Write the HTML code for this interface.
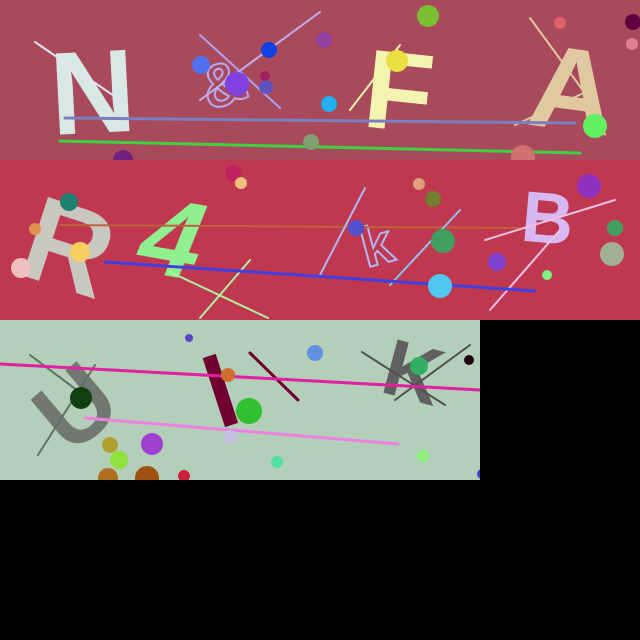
<!DOCTYPE html>
<html><head><meta charset="utf-8"><style>
html,body{margin:0;padding:0;background:#000;width:640px;height:640px;overflow:hidden}
svg{display:block}
text{font-family:"Liberation Sans",sans-serif;font-weight:bold}
</style></head><body>
<svg width="640" height="640" viewBox="0 0 640 640">
<defs>
<clipPath id="c1"><rect x="0" y="0" width="640" height="160"/></clipPath>
<clipPath id="c2"><rect x="0" y="160" width="640" height="160"/></clipPath>
<clipPath id="c3"><rect x="0" y="320" width="480" height="160"/></clipPath>
</defs>
<rect width="640" height="640" fill="#000"/>
<g clip-path="url(#c1)">
<rect x="0" y="0" width="640" height="160" fill="#a84a5c"/>
<text x="50" y="133" font-size="118" fill="#d8e8e4" transform="rotate(-3 90 90)">N</text>
<text x="198" y="105" font-size="60" fill="none" stroke="#b8a8f0" stroke-width="2" font-weight="normal" transform="rotate(-20 220 75)">&amp;</text>
<text x="365" y="130" font-size="112" fill="#f4f4b0" transform="rotate(6 400 90)">F</text>
<text x="530" y="130" font-size="118" fill="#e0c8a0" transform="rotate(8 570 90)">A</text>
<g stroke-linecap="round">
<line x1="35" y1="42" x2="120" y2="100" stroke="#e8e0f0" stroke-width="2"/>
<line x1="200" y1="100" x2="320" y2="12" stroke="#c0b0f0" stroke-width="2"/>
<line x1="200" y1="35" x2="280" y2="108" stroke="#b0a0f0" stroke-width="2"/>
<line x1="350" y1="110" x2="400" y2="45" stroke="#f4f4b0" stroke-width="2"/>
<line x1="530" y1="18" x2="590" y2="100" stroke="#e0c8a0" stroke-width="2"/>
<line x1="515" y1="125" x2="590" y2="90" stroke="#e0c8a0" stroke-width="2"/>
<line x1="65" y1="118" x2="575" y2="123" stroke="#7a7fc0" stroke-width="3"/>
<line x1="60" y1="141" x2="580" y2="153" stroke="#40d040" stroke-width="3"/>
</g>
<g>
<circle cx="428" cy="16" r="11" fill="#7ac030"/><circle cx="560" cy="23" r="6" fill="#e06070"/>
<circle cx="633" cy="22" r="8" fill="#600040"/><circle cx="632" cy="44" r="6" fill="#e08090"/>
<circle cx="324" cy="40" r="8" fill="#9040a0"/><circle cx="269" cy="50" r="8" fill="#1040e0"/>
<circle cx="201" cy="65" r="9" fill="#5070f0"/><circle cx="237" cy="84" r="12" fill="#8040e0"/>
<circle cx="266" cy="87" r="7" fill="#6050c0"/><circle cx="265" cy="76" r="5" fill="#a02060"/>
<circle cx="329" cy="104" r="8" fill="#20b0f0"/><circle cx="397" cy="61" r="11" fill="#e8e040"/>
<circle cx="595" cy="126" r="12" fill="#60f060"/><circle cx="311" cy="142" r="8" fill="#80a070"/>
<circle cx="123" cy="160" r="10" fill="#702080"/><circle cx="523" cy="157" r="12" fill="#d07070"/>
</g>
</g>
<g clip-path="url(#c2)">
<rect x="0" y="160" width="640" height="160" fill="#c0384f"/>
<text x="28" y="290" font-size="120" fill="#c8c8c0" transform="rotate(18 75 240)">R</text>
<text x="195" y="288" font-size="110" fill="#90f090" transform="rotate(10 240 250) skewX(-12)">4</text>
<text x="360" y="262" font-size="56" fill="none" stroke="#b0b8f0" stroke-width="2" font-weight="normal" transform="rotate(-15 385 240)">k</text>
<text x="522" y="243" font-size="72" fill="#d8b8f0" transform="rotate(5 550 215)">B</text>
<g stroke-linecap="round">
<line x1="60" y1="225" x2="520" y2="228" stroke="#c06040" stroke-width="2"/>
<line x1="170" y1="272" x2="268" y2="318" stroke="#b0f0a0" stroke-width="2"/>
<line x1="200" y1="318" x2="250" y2="260" stroke="#b0f0a0" stroke-width="2"/>
<line x1="320" y1="275" x2="365" y2="188" stroke="#b0b8f0" stroke-width="2"/>
<line x1="390" y1="285" x2="460" y2="210" stroke="#90c0f0" stroke-width="2"/>
<line x1="485" y1="240" x2="615" y2="200" stroke="#f0c0e0" stroke-width="2"/>
<line x1="490" y1="310" x2="560" y2="230" stroke="#f0c0f0" stroke-width="2"/>
<line x1="105" y1="262" x2="535" y2="291" stroke="#4040e0" stroke-width="3"/>
</g>
<g>
<circle cx="69" cy="202" r="9" fill="#208070"/><circle cx="35" cy="229" r="6" fill="#e09050"/>
<circle cx="21" cy="268" r="10" fill="#f0c0c0"/><circle cx="80" cy="252" r="10" fill="#f8d060"/>
<circle cx="233" cy="173" r="8" fill="#c02060"/><circle cx="241" cy="183" r="6" fill="#f0c080"/>
<circle cx="419" cy="184" r="6" fill="#e0a080"/><circle cx="433" cy="199" r="8" fill="#708030"/>
<circle cx="356" cy="228" r="8" fill="#5050d0"/><circle cx="443" cy="241" r="12" fill="#40a060"/>
<circle cx="440" cy="286" r="12" fill="#50c8f0"/><circle cx="497" cy="262" r="9" fill="#8040d0"/>
<circle cx="589" cy="186" r="12" fill="#9030c0"/><circle cx="615" cy="228" r="8" fill="#40a060"/>
<circle cx="612" cy="254" r="12" fill="#a0b090"/><circle cx="547" cy="275" r="5" fill="#80f080"/>
</g>
</g>
<g clip-path="url(#c3)">
<rect x="0" y="320" width="480" height="160" fill="#b4cfb9"/>
<text x="35" y="440" font-size="100" fill="#707870" transform="rotate(-40 75 400)">U</text>
<text x="205" y="425" font-size="100" fill="#700030" transform="rotate(-18 225 385)">l</text>
<text x="385" y="400" font-size="80" fill="#606060" transform="rotate(15 415 370)">K</text>
<g stroke-linecap="round">
<line x1="30" y1="355" x2="90" y2="400" stroke="#607060" stroke-width="2"/>
<line x1="38" y1="455" x2="95" y2="365" stroke="#607060" stroke-width="2"/>
<line x1="250" y1="353" x2="298" y2="400" stroke="#700030" stroke-width="3"/>
<line x1="362" y1="352" x2="445" y2="405" stroke="#505050" stroke-width="2"/>
<line x1="395" y1="400" x2="470" y2="345" stroke="#505050" stroke-width="2"/>
<line x1="0" y1="364" x2="480" y2="390" stroke="#e020a0" stroke-width="3"/>
<line x1="85" y1="418" x2="398" y2="444" stroke="#f080e0" stroke-width="3"/>
</g>
<g>
<circle cx="189" cy="338" r="4" fill="#6040c0"/><circle cx="228" cy="375" r="7" fill="#d07030"/>
<circle cx="249" cy="411" r="13" fill="#30c030"/><circle cx="81" cy="398" r="11" fill="#104010"/>
<circle cx="315" cy="353" r="8" fill="#6090e0"/><circle cx="419" cy="366" r="9" fill="#30b060"/>
<circle cx="469" cy="360" r="5" fill="#200010"/><circle cx="230" cy="437" r="7" fill="#c0c0e0"/>
<circle cx="110" cy="445" r="8" fill="#b0a030"/><circle cx="152" cy="444" r="11" fill="#a040d0"/>
<circle cx="119" cy="460" r="9" fill="#90e040"/><circle cx="277" cy="462" r="6" fill="#50e0a0"/>
<circle cx="423" cy="456" r="6" fill="#90f080"/><circle cx="108" cy="478" r="10" fill="#b07020"/>
<circle cx="147" cy="478" r="12" fill="#a05010"/><circle cx="184" cy="476" r="6" fill="#d02040"/>
<circle cx="482" cy="474" r="5" fill="#4040d0"/>
</g>
</g>
</svg>
</body></html>
